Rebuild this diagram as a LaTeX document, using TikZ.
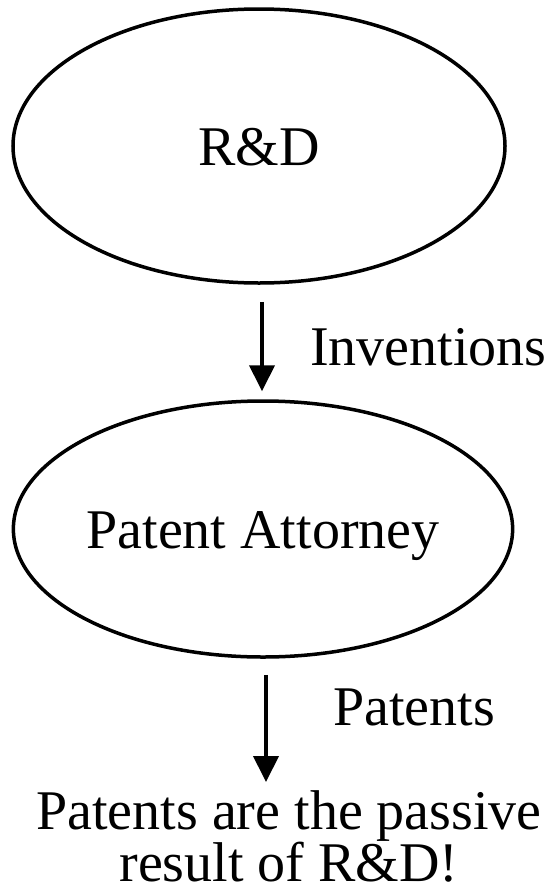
\documentclass[tikz,border=0pt]{standalone}
\usepackage{fontspec}
\setmainfont{Liberation Serif}
\usetikzlibrary{shapes.geometric,arrows.meta,calc}
\begin{document}
\begin{tikzpicture}[x=1pt,y=-1pt,
  bubble/.style={ellipse,draw,line width=3.5pt,inner sep=0pt,text height=38pt,text depth=0pt},
  lbl/.style={font=\fontsize{56}{60}\selectfont,inner sep=0pt},
  arr/.style={line width=4pt,-{Triangle[length=26pt,width=25pt]}}]
\useasboundingbox (0,0) rectangle (550,894);
\node[bubble,lbl,minimum width=492pt,minimum height=274pt] (rd) at (259,146) {R\&D};
\node[bubble,lbl,minimum width=494pt,minimum height=256pt] (pa) at (263,529) {Patent Attorney};
\node[lbl,anchor=base west] (inv) at (310,365) {Inventions};
\node[lbl,anchor=base west] (pat) at (333,725) {Patents};
\node[lbl,font=\fontsize{56}{50}\selectfont,align=center,text depth=0pt,anchor=south] (res) at (289,882) {Patents are the passive\\result of R\&D!};
\coordinate (t2) at (266,782);
\draw[arr] ([xshift=3pt,yshift=-17pt]rd.south) -- ([xshift=-1pt,yshift=8pt]pa.north);
\draw[arr] ([xshift=3pt,yshift=-16pt]pa.south) -- (t2);
\end{tikzpicture}
\end{document}
